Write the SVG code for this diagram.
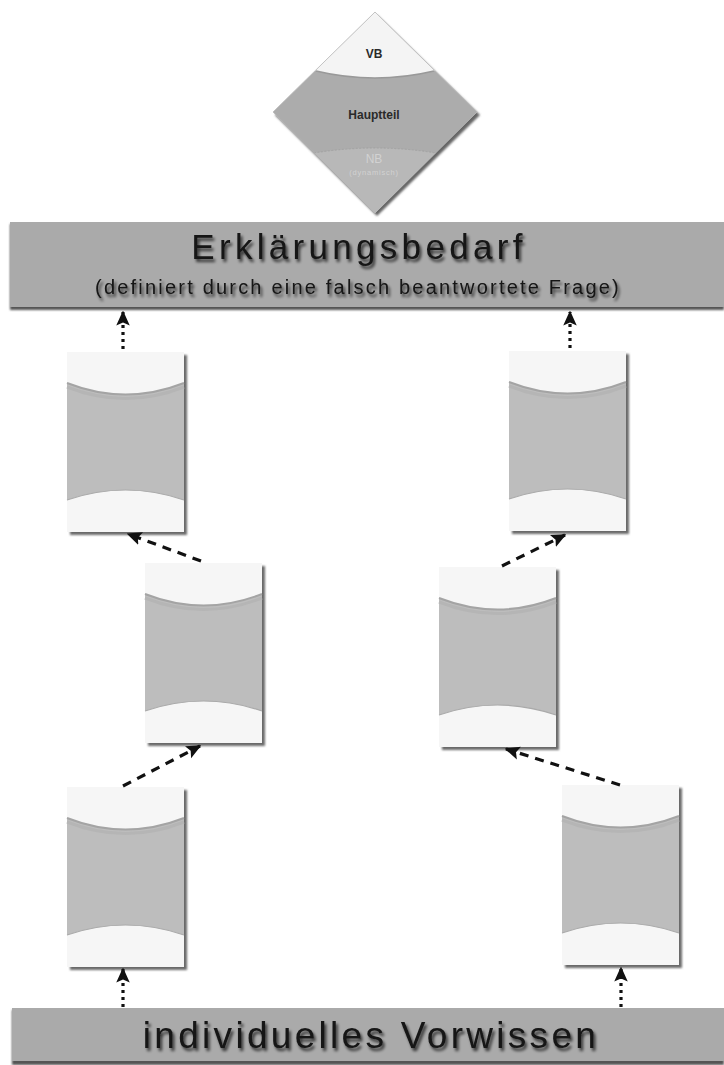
<svg xmlns="http://www.w3.org/2000/svg" width="724" height="1065" viewBox="0 0 724 1065">
<style>
.bar{fill:#aaaaaa}
.barShadow{fill:#555555}
.title{font-family:"Liberation Sans",Arial,sans-serif;fill:#141414}
.lbl{font-family:"Liberation Sans",Arial,sans-serif;font-weight:bold;text-anchor:middle}
.conn{fill:none;stroke:#111;stroke-width:3.2}
.dash{stroke-dasharray:9 7}
.dot{stroke-dasharray:3 4}
</style>
<defs>
<filter id="ts" x="-10%" y="-30%" width="120%" height="160%">
<feGaussianBlur in="SourceAlpha" stdDeviation="1.6"/>
<feOffset dx="2" dy="3" result="b"/>
<feComponentTransfer><feFuncA type="linear" slope="0.7"/></feComponentTransfer>
<feMerge><feMergeNode/><feMergeNode in="SourceGraphic"/></feMerge>
</filter>
<filter id="sh" x="-10%" y="-10%" width="130%" height="130%">
<feGaussianBlur stdDeviation="1.2"/>
</filter>
<marker id="ah" viewBox="0 0 10 10" refX="9" refY="5" markerWidth="15" markerHeight="15" markerUnits="userSpaceOnUse" orient="auto">
<path d="M0,0.5 L10,5 L0,9.5 L2,5 z" fill="#111"/>
</marker>
<symbol id="box" overflow="visible">
<rect x="3" y="3" width="117" height="180" fill="#6a6a6a" filter="url(#sh)"/>
<rect x="0" y="0" width="117" height="180" fill="#f6f6f6"/>
<path d="M0,31 Q58.5,54 117,31 L117,148 Q58.5,128 0,148 Z" fill="#bdbdbd"/>
<path d="M0,31 Q58.5,54 117,31" fill="none" stroke="#a4a4a4" stroke-width="2"/>
<path d="M0,35 Q58.5,58 117,35" fill="none" stroke="#b5b5b5" stroke-width="3"/>
<path d="M0,148 Q58.5,128 117,148" fill="none" stroke="#aaaaaa" stroke-width="1.2"/>
</symbol>
<clipPath id="dclip"><path d="M375,12 L477,112 L375,213 L273,112 Z"/></clipPath>
</defs>

<g id="vorlage">
<path d="M377,15 L480,115 L377,216 L275,115 Z" fill="#666" filter="url(#sh)"/>
<g clip-path="url(#dclip)">
<rect x="270" y="10" width="210" height="210" fill="#acacac"/>
<path d="M270,71 L316,71 Q375,85 434,71 L480,71 L480,5 L270,5 Z" fill="#f4f4f4"/>
<path d="M316,71 Q375,85 434,71" fill="none" stroke="#999" stroke-width="1.5"/>
<path d="M270,153 L314,153 Q375,143 436,153 L480,153 L480,220 L270,220 Z" fill="#b8b8b8"/>
<path d="M314,153 Q375,143 436,153" fill="none" stroke="#a0a0a0" stroke-width="0.8" stroke-dasharray="2 1.5"/>
</g>
<path d="M375,12 L477,112 L375,213 L273,112 Z" fill="none" stroke="#bbb" stroke-width="0.8"/>
<text class="lbl" x="374" y="58" font-size="12" fill="#2a2a2a">VB</text>
<text class="lbl" x="374" y="119" font-size="12" fill="#2a2a2a">Hauptteil</text>
<text class="lbl" x="374" y="163" font-size="12" fill="#d2d2d2" style="font-weight:normal">NB</text>
<text class="lbl" x="374" y="175" font-size="7.5" fill="#d2d2d2" style="font-weight:normal;letter-spacing:0.8px">(dynamisch)</text>
</g>

<g id="erklaerungsbedarf">
<rect x="10" y="224" width="714" height="86" class="barShadow" filter="url(#sh)"/>
<rect x="10" y="222" width="714" height="85" class="bar"/>
<text class="title" x="359" y="259" font-size="35" text-anchor="middle" letter-spacing="4.3" filter="url(#ts)">Erklärungsbedarf</text>
<text class="title" x="358" y="294" font-size="20" text-anchor="middle" letter-spacing="2.2" filter="url(#ts)">(definiert durch eine falsch beantwortete Frage)</text>
</g>

<g id="vorwissen">
<rect x="12" y="1010" width="712" height="55" class="barShadow" filter="url(#sh)"/>
<rect x="12" y="1008" width="712" height="53" class="bar"/>
<text class="title" x="371" y="1048" font-size="37" text-anchor="middle" letter-spacing="3.3" filter="url(#ts)">individuelles Vorwissen</text>
</g>

<g id="node-a" transform="translate(67,352)"><use href="#box"/></g>
<g id="node-b" transform="translate(509,351)"><use href="#box"/></g>
<g id="node-c" transform="translate(145,563)"><use href="#box"/></g>
<g id="node-d" transform="translate(439,567)"><use href="#box"/></g>
<g id="node-e" transform="translate(67,787)"><use href="#box"/></g>
<g id="node-f" transform="translate(562,785)"><use href="#box"/></g>

<g id="connectors">
<path class="conn dot" d="M123,349 L123,312" marker-end="url(#ah)"/>
<path class="conn dot" d="M570,348 L570,312" marker-end="url(#ah)"/>
<path class="conn dash" d="M201,561 L128,534" marker-end="url(#ah)"/>
<path class="conn dash" d="M502,566 L565,535" marker-end="url(#ah)"/>
<path class="conn dash" d="M123,786 L200,746" marker-end="url(#ah)"/>
<path class="conn dash" d="M620,785 L506,749" marker-end="url(#ah)"/>
<path class="conn dot" d="M123,1007 L123,969" marker-end="url(#ah)"/>
<path class="conn dot" d="M621,1007 L621,968" marker-end="url(#ah)"/>
</g>
</svg>
